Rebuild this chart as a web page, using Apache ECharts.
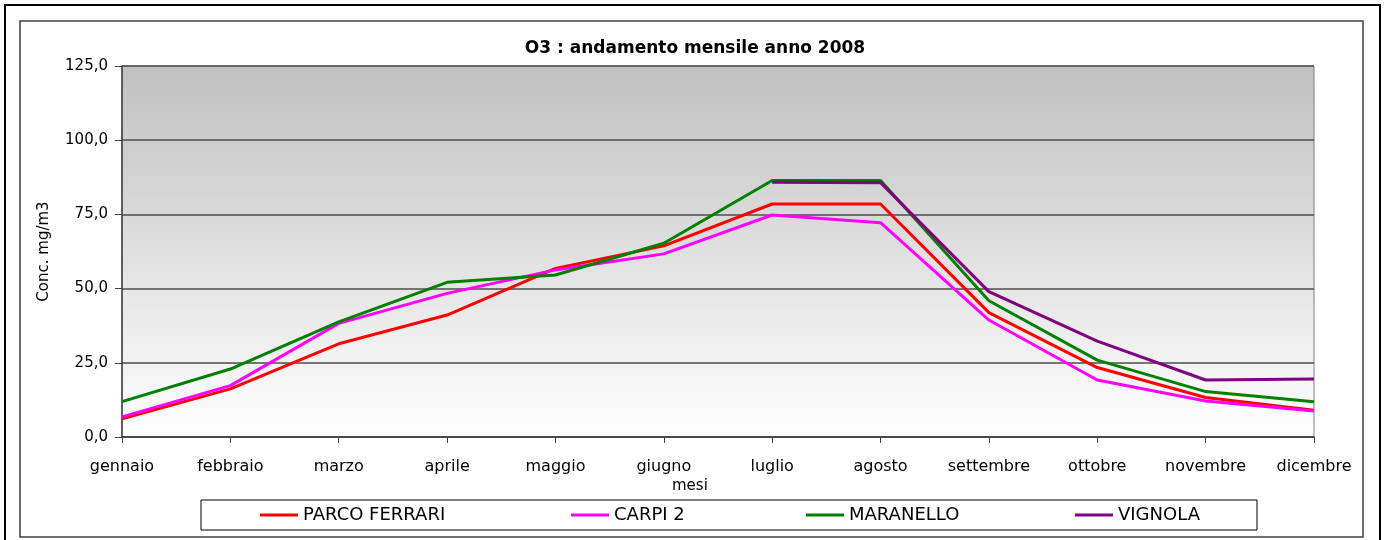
<!DOCTYPE html>
<html>
<head>
<meta charset="utf-8">
<title>O3 : andamento mensile anno 2008</title>
<script src="https://cdn.jsdelivr.net/npm/echarts@6/dist/echarts.min.js"></script>
<style>
  html, body { margin: 0; padding: 0; background: #fff; }
  #main { width: 1391px; height: 540px; }
</style>
</head>
<body>
<div id="main"></div>
<script>
// mesi
var months = ['gennaio', 'febbraio', 'marzo', 'aprile', 'maggio', 'giugno',
  'luglio', 'agosto', 'settembre', 'ottobre', 'novembre', 'dicembre']

// concentrazioni mensili
var parcoFerrari = [6.1, 16.2, 31.4, 41.1, 56.8, 64.4, 78.5, 78.5, 41.9, 23.4, 13.3, 9.0]
var carpi2 = [6.8, 17.3, 38.3, 48.4, 56.3, 61.7, 74.8, 72.2, 39.4, 19.2, 12.1, 8.8]
var maranello = [11.9, 22.9, 38.8, 52.1, 54.6, 65.3, 86.4, 86.4, 45.9, 25.9, 15.3, 11.9]
// VIGNOLA solo da luglio
var vignola = [null, null, null, null, null, null, 85.8, 85.7, 49.0, 32.3, 19.2, 19.5]

var yTicks = [0, 25, 50, 75, 100, 125]

var seriesNames = ['PARCO FERRARI', 'CARPI 2', 'MARANELLO', 'VIGNOLA']
var seriesColors = ['#ff0000', '#ff00ff', '#008000', '#800080']
var seriesData = [parcoFerrari, carpi2, maranello, vignola]
var legendLeft = [260, 571, 806, 1075]

var FONT = 'DejaVu Sans'

var chartObj = echarts.init(document.getElementById('main'))

var option = {
  backgroundColor: '#fff',
  animation: false,
  title: {
    text: 'O3 : andamento mensile anno 2008',
    left: 690,
    top: 35,
    textAlign: 'center',
    textStyle: { fontFamily: FONT, fontSize: 17, fontWeight: 'bold', color: '#000' }
  },
  /** una legenda per voce, per tenere le posizioni dell'originale */
  legend: seriesNames.map(function(name, i) {
    return {
      data: [name],
      left: legendLeft[i],
      top: 506,
      padding: 0,
      icon: 'rect',
      itemWidth: 38,
      itemHeight: 3,
      textStyle: { fontFamily: FONT, fontSize: 18, color: '#000' }
    }
  }),
  grid: {
    left: 122,
    right: 77,
    top: 66,
    bottom: 103,
    show: true,
    borderColor: '#808080',
    borderWidth: 1,
    backgroundColor: new echarts.graphic.LinearGradient(0, 0, 0, 1, [
      { offset: 0, color: '#c0c0c0' },
      { offset: 1, color: '#ffffff' }
    ])
  },
  xAxis: {
    type: 'category',
    data: months,
    boundaryGap: false,
    axisLine: { lineStyle: { color: '#404040', width: 1.5 } },
    axisTick: { show: true, inside: false, length: 6, alignWithLabel: true, lineStyle: { color: '#404040' } },
    axisLabel: { interval: 0, margin: 22, fontFamily: FONT, fontSize: 16, color: '#000' },
    splitLine: { show: false }
  },
  yAxis: {
    type: 'value',
    min: yTicks[0],
    max: yTicks[yTicks.length - 1],
    interval: yTicks[1] - yTicks[0],
    name: 'Conc. mg/m3',
    nameLocation: 'middle',
    nameGap: 70,
    nameTextStyle: { fontFamily: FONT, fontSize: 15, color: '#000' },
    axisLine: { show: true, lineStyle: { color: '#404040', width: 1.5 } },
    axisTick: { show: true, length: 7, lineStyle: { color: '#404040' } },
    axisLabel: {
      margin: 14,
      fontFamily: FONT,
      fontSize: 15,
      color: '#000',
      formatter: function(v) { return v.toFixed(1).replace('.', ',') }
    },
    splitLine: { show: true, lineStyle: { color: '#4d4d4d', width: 1.5 } }
  },
  series: seriesNames.map(function(name, i) {
    return {
      name: name,
      type: 'line',
      data: seriesData[i],
      showSymbol: false,
      symbol: 'none',
      connectNulls: false,
      color: seriesColors[i],
      lineStyle: { width: 3, color: seriesColors[i] }
    }
  }),
  graphic: [
    // cornice esterna (tagliata in basso)
    {
      type: 'polyline',
      shape: { points: [[5, 545], [5, 5], [1380, 5], [1380, 545]] },
      style: { stroke: '#000', lineWidth: 2, fill: null }
    },
    // bordo area grafico
    {
      type: 'rect',
      shape: { x: 20, y: 21, width: 1343, height: 516 },
      style: { stroke: '#404040', lineWidth: 1.5, fill: null }
    },
    // riquadro legenda
    {
      type: 'rect',
      shape: { x: 201, y: 500, width: 1056, height: 30 },
      style: { stroke: '#000', lineWidth: 1, fill: null }
    },
    // nome asse x
    {
      type: 'text',
      left: 672,
      top: 479,
      style: { text: 'mesi', fontFamily: FONT, fontSize: 15, fill: '#000' }
    }
  ]
}

chartObj.setOption(option, true)
</script>
</body>
</html>
